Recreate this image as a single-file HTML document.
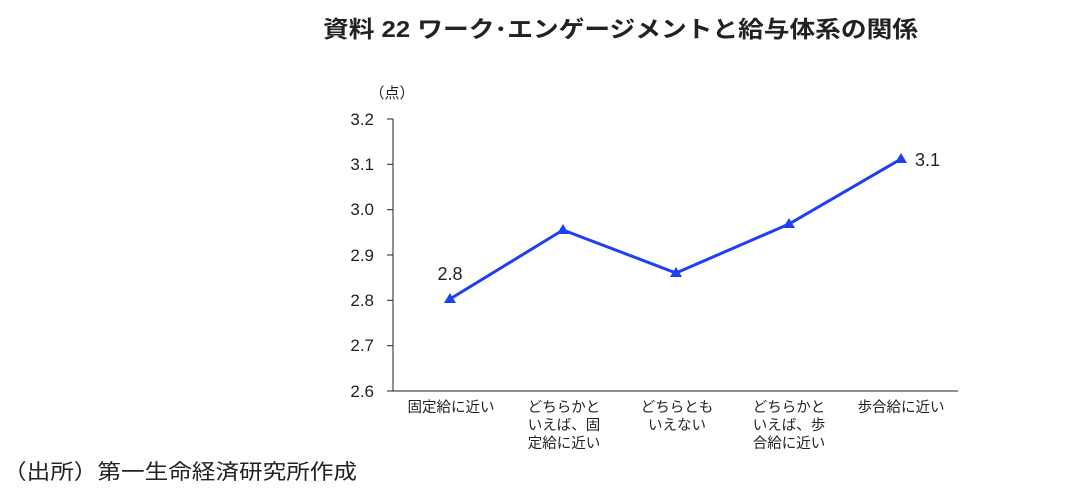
<!DOCTYPE html>
<html><head><meta charset="utf-8"><style>
body{margin:0;background:#fff;}
svg text{font-family:"Liberation Sans","Noto Sans CJK JP",sans-serif;fill:#222;}
</style></head><body>
<svg width="1077" height="499" xmlns="http://www.w3.org/2000/svg">
<text x="323" y="37" font-size="23" font-weight="bold" textLength="595" lengthAdjust="spacingAndGlyphs">資料 22  ワーク･エンゲージメントと給与体系の関係</text>
<text x="392" y="98" font-size="15" text-anchor="middle">（点）</text>
<g font-size="17" text-anchor="end">
<text x="374" y="125">3.2</text><text x="374" y="170">3.1</text><text x="374" y="215">3.0</text>
<text x="374" y="261">2.9</text><text x="374" y="306">2.8</text><text x="374" y="351">2.7</text><text x="374" y="397">2.6</text>
</g>
<g stroke="#222" stroke-width="1">
<line x1="393" y1="119" x2="393" y2="391"/><line x1="393" y1="391" x2="958" y2="391"/>
<line x1="387" y1="119" x2="393" y2="119"/><line x1="387" y1="164.3" x2="393" y2="164.3"/>
<line x1="387" y1="209.7" x2="393" y2="209.7"/><line x1="387" y1="255" x2="393" y2="255"/>
<line x1="387" y1="300.3" x2="393" y2="300.3"/><line x1="387" y1="345.7" x2="393" y2="345.7"/>
<line x1="387" y1="391" x2="393" y2="391"/>
</g>
<polyline points="450,299 563,230 676,273 789,224 901,159" fill="none" stroke="#1f3ff5" stroke-width="3"/>
<g fill="#1f3ff5">
<polygon points="450,293 456,303 444,303"/><polygon points="563,224 569,234 557,234"/>
<polygon points="676,267 682,277 670,277"/><polygon points="789,218 795,228 783,228"/>
<polygon points="901,153 907,163 895,163"/>
</g>
<text x="450" y="280" font-size="18" text-anchor="middle">2.8</text>
<text x="915" y="166" font-size="18">3.1</text>
<g font-size="14.5" text-anchor="middle">
<text x="451" y="412">固定給に近い</text>
<text x="564" y="412">どちらかと</text><text x="564" y="430">いえば、固</text><text x="564" y="448">定給に近い</text>
<text x="677" y="412">どちらとも</text><text x="677" y="430">いえない</text>
<text x="789" y="412">どちらかと</text><text x="789" y="430">いえば、歩</text><text x="789" y="448">合給に近い</text>
<text x="901" y="412">歩合給に近い</text>
</g>
<text x="3" y="479" font-size="21" textLength="354" lengthAdjust="spacingAndGlyphs">（出所）第一生命経済研究所作成</text>
</svg>
</body></html>
